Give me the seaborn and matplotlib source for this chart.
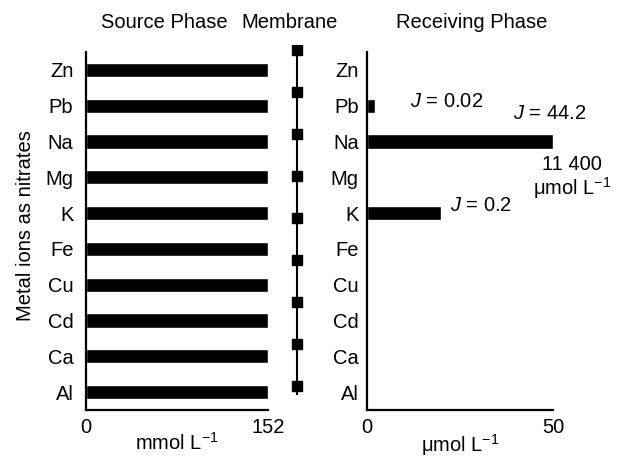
import matplotlib
matplotlib.use("Agg")
import matplotlib.pyplot as plt
import seaborn as sns
import pandas as pd
import numpy as np

# metal ions, top to bottom
ions = ["Zn", "Pb", "Na", "Mg", "K", "Fe", "Cu", "Cd", "Ca", "Al"]
# source phase concentration (mmol/L)
source_mmol = [152, 152, 152, 152, 152, 152, 152, 152, 152, 152]
# receiving phase concentration (umol/L); Na is off the scale (11 400)
receiving_umol = [0, 2.2, 11400, 0, 20, 0, 0, 0, 0, 0]
receiving_max = 50
# membrane carrier sites drawn on the membrane line
membrane_sites = list(range(9))

df = pd.DataFrame({"ion": ions, "source": source_mmol,
                   "receiving": np.minimum(receiving_umol, receiving_max)})

sns.set_theme(style="white")
plt.rcParams["font.family"] = ["Liberation Sans", "DejaVu Sans"]
plt.rcParams["mathtext.fontset"] = "custom"
plt.rcParams["mathtext.rm"] = "Liberation Sans"
plt.rcParams["mathtext.it"] = "Liberation Sans:italic"
for k in ["text.color", "axes.labelcolor", "xtick.color", "ytick.color"]:
    plt.rcParams[k] = "black"

fig = plt.figure(figsize=(6.26, 4.57), dpi=100)
W, H = 626, 457


def px_axes(x0, x1, top, bottom):
    return fig.add_axes([x0 / W, (H - bottom) / H, (x1 - x0) / W, (bottom - top) / H])


ax_src = px_axes(86, 268, 52, 410)
ax_mem = px_axes(280, 314, 45, 395)
ax_rec = px_axes(367, 553, 52, 410)

fs = 14.5
for ax, col, xmax, unit, pad in [(ax_src, "source", 152, "mmol L$^{-1}$", 9),
                                 (ax_rec, "receiving", receiving_max, "μmol L$^{-1}$", 6)]:
    sns.barplot(data=df, x=col, y="ion", orient="h", color="black",
                width=0.4, ax=ax, saturation=1)
    ax.set_xlim(0, xmax)
    ax.set_ylim(9.5, -0.5)
    ax.set_xticks([0, xmax])
    ax.set_xticklabels(["0", str(xmax)], fontsize=fs)
    ax.tick_params(axis="x", length=0, pad=6)
    ax.tick_params(axis="y", length=0, pad=pad, labelsize=fs)
    ax.set_xlabel(unit, fontsize=fs, labelpad=-4)
    ax.set_ylabel("")
    sns.despine(ax=ax)
    for s in ["left", "bottom"]:
        ax.spines[s].set_linewidth(1.6)
        ax.spines[s].set_color("black")

# membrane
ax_mem.axvline(0, color="black", lw=1.5)
ax_mem.plot(np.zeros(len(membrane_sites)), membrane_sites, "s", color="black",
            markersize=7, linestyle="none")
ax_mem.set_xlim(-1, 1)
ax_mem.set_ylim((395 - 50) / 42, (45 - 50) / 42)
ax_mem.axis("off")

# flux annotations
ax_rec.text(11.6, 0.87, "$J$ = 0.02", fontsize=fs, va="center", ha="left")
ax_rec.text(39.2, 1.21, "$J$ = 44.2", fontsize=fs, va="center", ha="left")
ax_rec.text(47.0, 2.64, "11 400", fontsize=fs, va="center", ha="left")
ax_rec.text(44.6, 3.31, "μmol L$^{-1}$", fontsize=fs, va="center", ha="left")
ax_rec.text(22.3, 3.78, "$J$ = 0.2", fontsize=fs, va="center", ha="left")

# headers
fig.text(164 / W, 1 - 22 / H, "Source Phase", ha="center", va="center", fontsize=fs)
fig.text(290 / W, 1 - 22 / H, "Membrane", ha="center", va="center", fontsize=fs)
fig.text(472 / W, 1 - 22 / H, "Receiving Phase", ha="center", va="center", fontsize=fs)
fig.text(26 / W, 1 - 226 / H, "Metal ions as nitrates", rotation=90,
         ha="center", va="center", fontsize=fs)

fig.savefig("out.png", dpi=100)
